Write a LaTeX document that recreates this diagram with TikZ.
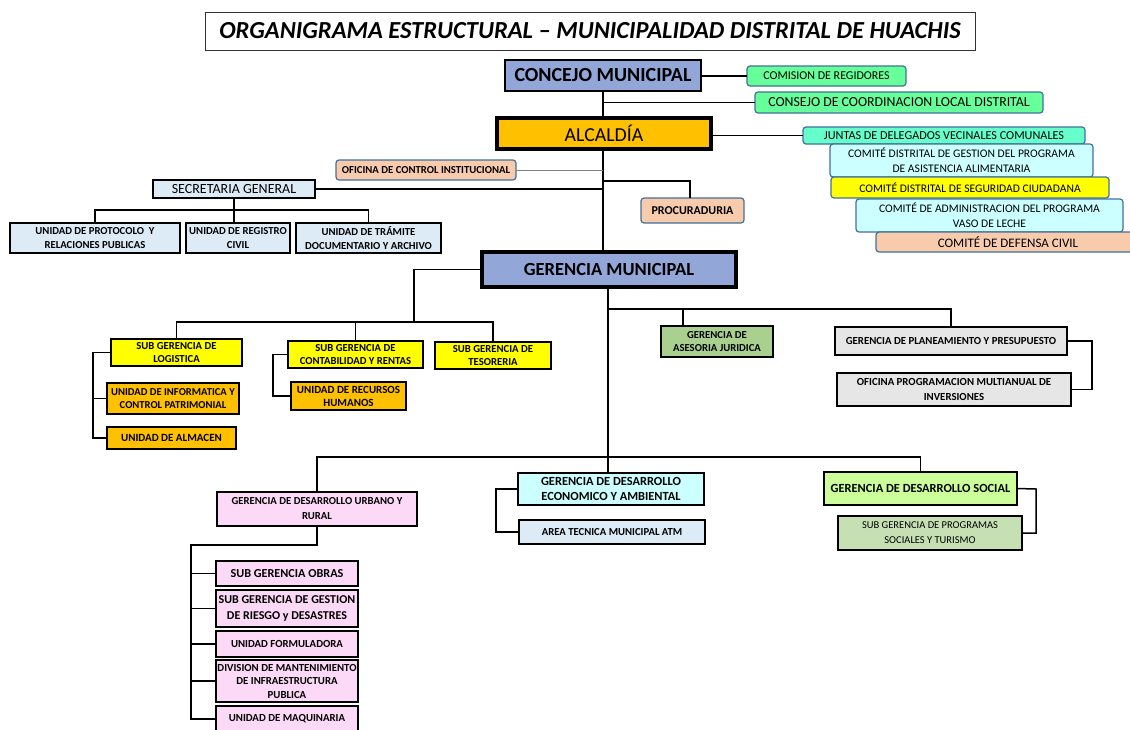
\documentclass[tikz,border=0pt]{standalone}
\usepackage{fontspec}
\setmainfont{Carlito}
\definecolor{bluegray}{RGB}{146,166,216}
\definecolor{mint}{RGB}{102,255,153}
\definecolor{aqua}{RGB}{102,255,204}
\definecolor{lcyan}{RGB}{204,255,255}
\definecolor{peach}{RGB}{248,203,173}
\definecolor{yel}{RGB}{255,255,0}
\definecolor{orng}{RGB}{255,192,0}
\definecolor{lblue}{RGB}{221,235,247}
\definecolor{asgreen}{RGB}{169,208,142}
\definecolor{lgray}{RGB}{231,230,230}
\definecolor{lpink}{RGB}{252,217,246}
\definecolor{lgreen}{RGB}{204,255,153}
\definecolor{sgreen}{RGB}{198,224,180}
\definecolor{rborder}{RGB}{65,113,156}
\newcommand\fs[2]{\fontsize{#1}{#2}\selectfont}
\newcommand\bx[7]{\node[#6, minimum width={(#4-#2)*1pt}, minimum height={(#5-#3)*1pt}] (#1) at ({(#2+#4)/2},{(#3+#5)/2}) {#7};}
\tikzset{
  sq/.style={draw=black, line width=1.5pt, align=center, inner sep=1pt, outer sep=0pt},
  rd/.style={draw=rborder, line width=1.2pt, rounded corners=3pt, align=center, inner sep=1pt, outer sep=0pt},
  conn/.style={draw=black, line width=1.5pt},
  gconn/.style={draw=gray, line width=1pt}
}
\begin{document}
\begin{tikzpicture}[x=1pt,y=-1pt]
\clip (0,0) rectangle (1130,729);
\fill[white] (0,0) rectangle (1130,729);
% title
\bx{title}{205}{12}{975}{50}{draw=black!80, line width=0.8pt, align=center, font=\bfseries\itshape\fs{24.5}{28}}{ORGANIGRAMA ESTRUCTURAL -- MUNICIPALIDAD DISTRITAL DE HUACHIS}
% top
\bx{concejo}{505}{60}{701}{91}{sq, line width=2.2pt, fill=bluegray, font=\bfseries\fs{20}{22}}{CONCEJO MUNICIPAL}
\bx{comision}{747}{66}{906}{86}{rd, fill=mint, font=\fs{12}{13}}{COMISION DE REGIDORES}
\bx{consejo}{755}{92}{1043}{113}{rd, fill=mint, font=\fs{13.8}{15}}{CONSEJO DE COORDINACION LOCAL DISTRITAL}
\bx{alcaldia}{497}{118}{711}{149}{sq, line width=3.5pt, fill=orng, font=\fs{19.8}{22}}{ALCALDÍA}
\bx{juntas}{803}{127}{1085}{144}{rd, fill=aqua, font=\fs{12.2}{13}}{JUNTAS DE DELEGADOS VECINALES COMUNALES}
\bx{cgest}{830}{144}{1093}{177}{rd, fill=lcyan, font=\fs{11.6}{15}}{COMITÉ DISTRITAL DE GESTION DEL PROGRAMA\\DE ASISTENCIA ALIMENTARIA}
\bx{cseg}{831}{177}{1109}{198}{rd, fill=yel, font=\fs{11.6}{13}}{COMITÉ DISTRITAL DE SEGURIDAD CIUDADANA}
\bx{cvaso}{856}{199}{1123}{232}{rd, fill=lcyan, font=\fs{11.6}{15}}{COMITÉ DE ADMINISTRACION DEL PROGRAMA\\VASO DE LECHE}
\bx{cdef}{876}{232}{1140}{252}{rd, fill=peach, font=\fs{13}{14}}{COMITÉ DE DEFENSA CIVIL}
\bx{oci}{336}{160}{516}{180}{rd, fill=peach, font=\bfseries\fs{10.7}{12}}{OFICINA DE CONTROL INSTITUCIONAL}
\bx{secgen}{153}{180}{315}{198}{sq, fill=lblue, font=\fs{14}{15}}{SECRETARIA GENERAL}
\bx{procu}{641}{198}{744}{223}{rd, fill=peach, font=\bfseries\fs{12}{13}}{PROCURADURIA}
\bx{prot}{10}{223}{180}{253}{sq, fill=lblue, font=\bfseries\fs{10.7}{13.5}}{UNIDAD DE PROTOCOLO~ Y\\RELACIONES PUBLICAS}
\bx{regciv}{186}{223}{290}{253}{sq, fill=lblue, font=\bfseries\fs{10.7}{13.5}}{UNIDAD DE REGISTRO\\CIVIL}
\bx{tram}{296}{223}{441}{253}{sq, fill=lblue, font=\bfseries\fs{10.7}{13.5}}{UNIDAD DE TRÁMITE\\DOCUMENTARIO Y ARCHIVO}
% gerencia
\bx{gm}{482}{252}{736}{287}{sq, line width=3.5pt, fill=bluegray, font=\bfseries\fs{18.5}{20}}{GERENCIA MUNICIPAL}
\bx{logi}{111}{339}{242}{366}{sq, fill=yel, font=\bfseries\fs{10.7}{12.5}}{SUB GERENCIA DE\\LOGISTICA}
\bx{conta}{288}{341}{423}{368}{sq, fill=yel, font=\bfseries\fs{10.7}{12.5}}{SUB GERENCIA DE\\CONTABILIDAD Y RENTAS}
\bx{teso}{435}{342}{551}{369}{sq, fill=yel, font=\bfseries\fs{10.7}{12.5}}{SUB GERENCIA DE\\TESORERIA}
\bx{uinf}{107}{383}{239}{414}{sq, fill=orng, font=\bfseries\fs{10.6}{13.5}}{UNIDAD DE INFORMATICA Y\\CONTROL PATRIMONIAL}
\bx{ualm}{107}{427}{236}{449}{sq, fill=orng, font=\bfseries\fs{11}{12}}{UNIDAD DE ALMACEN}
\bx{urrhh}{291}{382}{406}{410}{sq, fill=orng, font=\bfseries\fs{11}{13}}{UNIDAD DE RECURSOS\\HUMANOS}
\bx{ases}{661}{326}{773}{357}{sq, fill=asgreen, font=\bfseries\fs{10.7}{13.5}}{GERENCIA DE\\ASESORIA JURIDICA}
\bx{plan}{835}{327}{1067}{355}{sq, fill=lgray, font=\bfseries\fs{10.8}{12}}{GERENCIA DE PLANEAMIENTO Y PRESUPUESTO}
\bx{opmi}{837}{373}{1071}{406}{sq, fill=lgray, font=\bfseries\fs{10.8}{14.5}}{OFICINA PROGRAMACION MULTIANUAL DE\\INVERSIONES}
\bx{urb}{217}{492}{417}{526}{sq, fill=lpink, font=\bfseries\fs{10.7}{15}}{GERENCIA DE DESARROLLO URBANO Y\\RURAL}
\bx{eco}{518}{473}{704}{505}{sq, fill=lcyan, font=\bfseries\fs{12.4}{14.5}}{GERENCIA DE DESARROLLO\\ECONOMICO Y AMBIENTAL}
\bx{atm}{519}{520}{705}{544}{sq, fill=lblue, font=\bfseries\fs{10.7}{12}}{AREA TECNICA MUNICIPAL ATM}
\bx{soc}{824}{472}{1017}{505}{sq, fill=lgreen, font=\bfseries\fs{12.4}{14}}{GERENCIA DE DESARROLLO SOCIAL}
\bx{sgps}{838}{516}{1022}{550}{sq, fill=sgreen, font=\fs{10.5}{15}}{SUB GERENCIA DE PROGRAMAS\\SOCIALES Y TURISMO}
\bx{obras}{216}{561}{358}{586}{sq, fill=lpink, font=\bfseries\fs{12.2}{13}}{SUB GERENCIA OBRAS}
\bx{riesgo}{216}{590}{358}{627}{sq, fill=lpink, font=\bfseries\fs{12}{16}}{SUB GERENCIA DE GESTION\\DE RIESGO y DESASTRES}
\bx{form}{216}{631}{358}{657}{sq, fill=lpink, font=\bfseries\fs{10.8}{12}}{UNIDAD FORMULADORA}
\bx{divm}{216}{660}{358}{702}{sq, fill=lpink, font=\bfseries\fs{10.8}{13.5}}{DIVISION DE MANTENIMIENTO\\DE INFRAESTRUCTURA\\PUBLICA}
\bx{maq}{216}{706}{358}{732}{sq, fill=lpink, font=\bfseries\fs{10.8}{12}}{UNIDAD DE MAQUINARIA}
% coordinates
\coordinate (pj) at (603,181);
\coordinate (pk) at (690,181);
\coordinate (sgj) at (234,210);
\coordinate (gl) at (414,322);
\coordinate (lg) at (93,355);
\coordinate (cg) at (273,355);
\coordinate (gr) at (608,309);
\coordinate (ab) at (683,309);
\coordinate (pr) at (1092,341);
\coordinate (bh) at (608,457);
\coordinate (uc) at (191,545);
\coordinate (ec) at (496,489);
\coordinate (sc) at (1036,489);
% connectors top
\draw[conn] (comision.west -| concejo.east) -- (comision.west);
\draw[conn] (concejo.south) -- (concejo.south |- alcaldia.north);
\draw[conn] (concejo.south |- consejo.west) -- (consejo.west);
\draw[conn] (juntas.west -| alcaldia.east) -- (juntas.west);
\draw[conn] (alcaldia.south -| concejo.south) -- (gm.north -| concejo.south);
\draw[gconn] (oci.east) -- (oci.east -| concejo.south);
\draw[conn] (secgen.east) -- (secgen.east -| concejo.south);
\draw[conn] (pj) -- (pk) -- (pk |- procu.north);
\draw[conn] (secgen.south) -- (secgen.south |- sgj);
\draw[conn] (prot.north) -- (prot.north |- sgj) -- (tram.north |- sgj) -- (tram.north);
\draw[conn] (sgj) -- (sgj |- regciv.north);
% gerencia left
\draw[conn] (gm.west) -| (gl);
\draw[conn] (logi.north) -- (logi.north |- gl) -- (teso.north |- gl) -- (teso.north);
\draw[conn] (conta.north |- gl) -- (conta.north);
\draw[conn] (logi.west) -- (logi.west -| lg) |- (ualm.west);
\draw[conn] (uinf.west -| lg) -- (uinf.west);
\draw[conn] (conta.west) -- (conta.west -| cg) |- (urrhh.west);
% gerencia right / down
\draw[conn] (gm.south -| gr) -- (eco.north -| gr);
\draw[conn] (gr) -- (plan.north |- gr) -- (plan.north);
\draw[conn] (ab) -- (ab |- ases.north);
\draw[conn] (plan.east) -- (plan.east -| pr) |- (opmi.east);
\draw[conn] (urb.north) -- (urb.north |- bh) -- (soc.north |- bh) -- (soc.north);
\draw[conn] (urb.south) -- (urb.south |- uc) -- (uc) |- (maq.west);
\draw[conn] (uc |- obras.west) -- (obras.west);
\draw[conn] (uc |- riesgo.west) -- (riesgo.west);
\draw[conn] (uc |- form.west) -- (form.west);
\draw[conn] (uc |- divm.west) -- (divm.west);
\draw[conn] (eco.west) -- (ec) |- (atm.west);
\draw[conn] (soc.east) -- (sc) |- (sgps.east);
\end{tikzpicture}
\end{document}
